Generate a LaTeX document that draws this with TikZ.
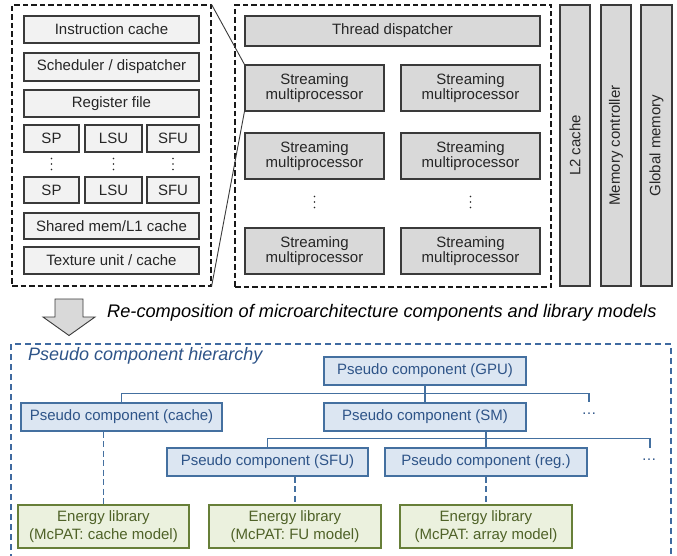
\documentclass[tikz,border=0pt]{standalone}
\usepackage{fontspec}
\setmainfont{Liberation Sans}
\definecolor{edgegray}{HTML}{3A3A3A}
\definecolor{lightfill}{HTML}{F2F2F2}
\definecolor{midfill}{HTML}{D9D9D9}
\definecolor{txtgray}{HTML}{262626}
\definecolor{pcfill}{HTML}{DCE6F2}
\definecolor{pcline}{HTML}{4470A0}
\definecolor{pctext}{HTML}{2E5488}
\definecolor{frameblue}{HTML}{3F6AA0}
\definecolor{elfill}{HTML}{EBF1DE}
\definecolor{elline}{HTML}{677F38}
\definecolor{eltext}{HTML}{4F6228}

% box given by its corners: style, name, x1, y1, x2, y2, text
\newcommand\cornerbox[7]{%
  \node[#1, minimum width={(#5)-(#3)}, minimum height={(#6)-(#4)}]
    (#2) at ({((#3)+(#5))/2},{((#4)+(#6))/2}) {#7};}

\tikzset{
  unitbox/.style={draw=edgegray, line width=1.1pt, fill=lightfill, inner sep=0pt,
    text=txtgray, font=\fontsize{15}{12}\selectfont, align=center},
  smbox/.style={unitbox, fill=midfill},
  barbox/.style={unitbox, fill=midfill},
  blockframe/.style={draw=black!90, line width=1.1pt, dash pattern=on 5.5pt off 3pt},
  zoomline/.style={draw=edgegray, line width=0.9pt},
  pcbox/.style={draw=pcline, line width=1.2pt, fill=pcfill, inner sep=0pt,
    text=pctext, font=\fontsize{15}{18}\selectfont},
  elbox/.style={draw=elline, line width=1.2pt, fill=elfill, inner sep=0pt,
    text=eltext, font=\fontsize{15}{18}\selectfont, align=center},
  tree/.style={draw=pcline, line width=1.2pt},
  libdash/.style={draw=pcline, line width=1.3pt, dash pattern=on 6pt off 3.5pt},
  hierframe/.style={draw=frameblue, line width=1.2pt, dash pattern=on 6pt off 4pt},
  vdot/.style={fill=txtgray, draw=none},
  moredots/.style={text=pctext, font=\fontsize{15}{18}\selectfont, inner sep=0pt},
}

\begin{document}
\begin{tikzpicture}[x=1pt, y=-1pt]
\useasboundingbox (0,0) rectangle (677,556);

% ---- streaming multiprocessor detail
\cornerbox{blockframe, minimum size=0pt, inner sep=0pt}{smdetail}{12}{5}{211}{286}{}
\cornerbox{unitbox}{icache}{24}{16}{199}{43}{Instruction cache}
\cornerbox{unitbox}{sched}{24}{53}{199}{81}{Scheduler / dispatcher}
\cornerbox{unitbox}{regfile}{24}{90}{199}{117}{Register file}
\cornerbox{unitbox}{spA}{24}{125}{79}{152}{SP}
\cornerbox{unitbox}{lsuA}{85}{125}{142}{152}{LSU}
\cornerbox{unitbox}{sfuA}{147}{125}{199}{152}{SFU}
\cornerbox{unitbox}{spB}{24}{177}{79}{203}{SP}
\cornerbox{unitbox}{lsuB}{85}{177}{142}{203}{LSU}
\cornerbox{unitbox}{sfuB}{147}{177}{199}{203}{SFU}
\cornerbox{unitbox}{shmem}{24}{213}{199}{239}{Shared mem/L1 cache}
\cornerbox{unitbox}{texunit}{24}{247}{199}{274}{Texture unit / cache}
\foreach \cx in {51.5,113.5,173}
  \foreach \cy in {158.5,164,169.5}
    \fill[vdot] (\cx,\cy) circle (0.8pt);

% ---- GPU core
\cornerbox{blockframe, minimum size=0pt, inner sep=0pt}{gpucore}{235}{5}{551}{287}{}
\cornerbox{smbox}{tdisp}{245}{16}{540}{46}{Thread dispatcher}
\cornerbox{smbox}{smAa}{245}{65}{384}{111}{Streaming\\multiprocessor}
\cornerbox{smbox}{smAb}{401}{65}{540}{111}{Streaming\\multiprocessor}
\cornerbox{smbox}{smBa}{245}{133}{384}{179}{Streaming\\multiprocessor}
\cornerbox{smbox}{smBb}{401}{133}{540}{179}{Streaming\\multiprocessor}
\cornerbox{smbox}{smCa}{245}{228}{384}{274}{Streaming\\multiprocessor}
\cornerbox{smbox}{smCb}{401}{228}{540}{274}{Streaming\\multiprocessor}
\foreach \cx in {314.5,470.5}
  \foreach \cy in {196.5,202,207.5}
    \fill[vdot] (\cx,\cy) circle (0.8pt);

% ---- memory side
\cornerbox{barbox}{ltwo}{560}{5}{590}{286}{}
\cornerbox{barbox}{memctl}{601}{5}{631}{286}{}
\cornerbox{barbox}{glmem}{641}{5}{672}{286}{}
\node[rotate=90, text=txtgray, font=\fontsize{15}{18}\selectfont] at (ltwo.center) {L2 cache};
\node[rotate=90, text=txtgray, font=\fontsize{15}{18}\selectfont] at (memctl.center) {Memory controller};
\node[rotate=90, text=txtgray, font=\fontsize{15}{18}\selectfont] at (glmem.center) {Global memory};

% ---- zoom-in lines
\draw[zoomline] (smdetail.north east) -- (smAa.north west);
\draw[zoomline] (smdetail.south east) -- (smAa.south west);

% ---- block arrow and caption
\draw[draw=edgegray, line width=0.9pt, fill=midfill, line join=miter]
  (55,299) -- (83,299) -- (83,317) -- (95,317) -- (69,335.5) -- (43,317) -- (55,317) -- cycle;
\node[anchor=west, inner sep=0pt, font=\fontsize{18.2}{20}\selectfont\itshape, text=black]
  (caption) at (107,313) {Re-composition of microarchitecture components and library models};

% ---- pseudo component hierarchy
\draw[hierframe] (11,560) -- (11,344) -- (671,344) -- (671,560);
\node[anchor=west, inner sep=0pt, font=\fontsize{18}{20}\selectfont\itshape, text=pctext]
  (hiertitle) at (28,356) {Pseudo component hierarchy};

\cornerbox{pcbox}{gpu}{324}{357}{526}{385}{Pseudo component (GPU)}
\cornerbox{pcbox}{cachepc}{21}{403}{222}{431}{Pseudo component (cache)}
\cornerbox{pcbox}{smpc}{324}{403}{526}{431}{Pseudo component (SM)}
\cornerbox{pcbox}{sfupc}{167}{448}{368}{476}{Pseudo component (SFU)}
\cornerbox{pcbox}{regpc}{385}{448}{587}{476}{Pseudo component (reg.)}

\cornerbox{elbox}{elcache}{18}{505}{189}{548}{Energy library\\(McPAT: cache model)}
\cornerbox{elbox}{elfu}{209}{505}{381}{548}{Energy library\\(McPAT: FU model)}
\cornerbox{elbox}{elarray}{400}{505}{572}{548}{Energy library\\(McPAT: array model)}

\coordinate (moreA) at (589,402);
\coordinate (moreB) at (650,448);
\node[moredots] (dotsA) at (589,414) {\dots};
\node[moredots] (dotsB) at (649,460) {\dots};

\draw[tree] (gpu.south) -- (smpc.north);
\draw[tree] (cachepc.north) -- ++(0,-9) -| (moreA);
\draw[tree] (smpc.south -| regpc.north) -- (regpc.north);
\draw[tree] (sfupc.north) -- ++(0,-9) -| (moreB);

\draw[libdash] (cachepc.south -| elcache.north) -- (elcache.north);
\draw[libdash] (sfupc.south -| elfu.north) -- (elfu.north);
\draw[libdash] (regpc.south) -- (elarray.north);
\end{tikzpicture}
\end{document}
